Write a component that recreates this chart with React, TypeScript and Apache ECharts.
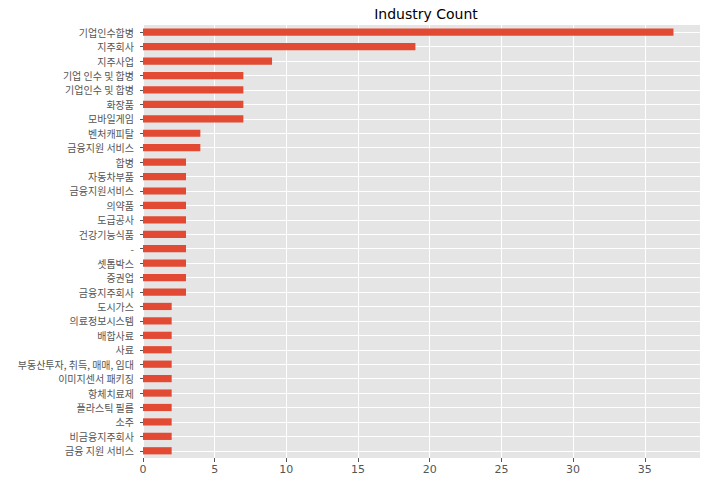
import React, { useEffect, useRef } from "react";
import * as echarts from "echarts";

const categories = [
  "기업인수합병",
  "지주회사",
  "지주사업",
  "기업 인수 및 합병",
  "기업인수 및 합병",
  "화장품",
  "모바일게임",
  "벤처캐피탈",
  "금융지원 서비스",
  "합병",
  "자동차부품",
  "금융지원서비스",
  "의약품",
  "도급공사",
  "건강기능식품",
  "-",
  "셋톱박스",
  "증권업",
  "금융지주회사",
  "도시가스",
  "의료정보시스템",
  "배합사료",
  "사료",
  "부동산투자, 취득, 매매, 임대",
  "이미지센서 패키징",
  "항체치료제",
  "플라스틱 필름",
  "소주",
  "비금융지주회사",
  "금융 지원 서비스",
];

const counts = [
  37, 19, 9, 7, 7, 7, 7, 4, 4, 3, 3, 3, 3, 3, 3, 3, 3, 3, 3, 2, 2, 2, 2, 2, 2,
  2, 2, 2, 2, 2,
];

const xTicks = [0, 5, 10, 15, 20, 25, 30, 35];
const xMax = 38.85;
const title = "Industry Count";

export default function App() {
  const ref = useRef<HTMLDivElement>(null);
  useEffect(() => {
    if (!ref.current) return;
    const chart = echarts.init(ref.current, null, { renderer: "svg" });
    const font = "'Noto Sans CJK KR', 'DejaVu Sans', sans-serif";
    chart.setOption({
      animation: false,
      backgroundColor: "#ffffff",
      title: {
        text: title,
        left: 421,
        top: 2,
        textAlign: "center",
        textStyle: {
          fontSize: 14,
          fontWeight: "normal",
          color: "#000000",
          fontFamily: "'DejaVu Sans', sans-serif",
        },
      },
      grid: {
        left: 143,
        right: 7,
        top: 25,
        bottom: 26,
        show: true,
        backgroundColor: "#E5E5E5",
        borderWidth: 0,
      },
      xAxis: {
        type: "value",
        min: 0,
        max: xMax,
        interval: 5,
        axisLine: { show: false },
        axisTick: {
          show: true,
          length: 4,
          lineStyle: { color: "#555555" },
        },
        axisLabel: {
          color: "#555555",
          fontSize: 11,
          fontFamily: "'DejaVu Sans', sans-serif",
          margin: 6,
          showMaxLabel: false,
          formatter: (v: number) =>
            xTicks.includes(v) ? String(v) : "",
        },
        splitLine: {
          show: true,
          lineStyle: { color: "#ffffff", width: 1 },
        },
      },
      yAxis: {
        type: "category",
        data: categories,
        inverse: true,
        axisLine: { show: false },
        axisTick: {
          show: true,
          alignWithLabel: true,
          length: 3,
          lineStyle: { color: "#555555" },
        },
        axisLabel: {
          color: "#555555",
          fontSize: 10,
          lineHeight: 12,
          fontFamily: font,
          margin: 9,
          interval: 0,
        },
        splitLine: {
          show: true,
          alignWithLabel: true,
          interval: 0,
          lineStyle: { color: "#ffffff", width: 1 },
        },
      },
      series: [
        {
          type: "bar",
          data: counts,
          barWidth: "50%",
          itemStyle: { color: "#E24A33" },
        },
      ],
    });
    return () => chart.dispose();
  }, []);
  return (
    <div
      ref={ref}
      style={{ position: "fixed", left: 0, top: 0, width: 707, height: 484 }}
    />
  );
}
